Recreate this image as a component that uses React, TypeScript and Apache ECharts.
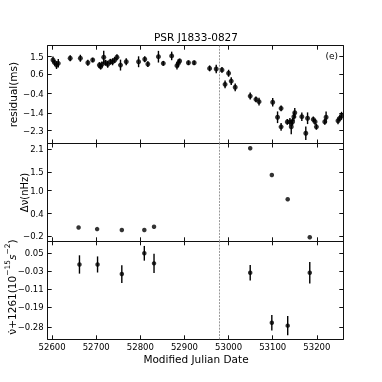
import React, { useEffect, useRef } from "react";
import * as echarts from "echarts";

// ---- data ----
const xTicks = [52600, 52700, 52800, 52900, 53000, 53100, 53200];
const topYTicks = [1.5, 0.6, -0.4, -1.4, -2.3];
const midYTicks = [2.1, 1.5, 1.0, 0.4, -0.2];
const botYTicks = [0.05, -0.03, -0.11, -0.19, -0.28];
const glitchMJD = 52978;

// [MJD, residual (ms), error (ms)]
const residuals: number[][] = [
  [52602, 1.33, 0.18], [52606, 1.19, 0.15], [52610, 1.07, 0.2], [52614, 1.16, 0.22],
  [52641, 1.42, 0.15], [52664, 1.42, 0.18], [52681, 1.19, 0.15], [52692, 1.33, 0.12],
  [52707, 1.07, 0.15], [52710, 0.99, 0.15], [52713, 1.11, 0.15], [52717, 1.47, 0.33],
  [52721, 1.19, 0.15], [52726, 1.11, 0.18], [52732, 1.24, 0.15], [52737, 1.24, 0.18],
  [52742, 1.33, 0.15], [52747, 1.47, 0.15], [52755, 1.07, 0.28], [52768, 1.24, 0.18],
  [52796, 1.24, 0.28], [52810, 1.37, 0.15], [52817, 1.12, 0.15], [52841, 1.5, 0.3],
  [52852, 1.16, 0.12], [52871, 1.54, 0.22], [52883, 1.04, 0.2], [52886, 1.16, 0.2],
  [52889, 1.28, 0.12], [52909, 1.19, 0.12], [52922, 1.19, 0.12], [52957, 0.9, 0.15],
  [52972, 0.87, 0.22], [52985, 0.82, 0.15], [52992, 0.08, 0.2], [53000, 0.65, 0.18],
  [53006, 0.25, 0.2], [53015, -0.07, 0.2], [53049, -0.52, 0.18], [53062, -0.69, 0.15],
  [53069, -0.81, 0.2], [53100, -0.84, 0.22], [53111, -1.61, 0.3], [53119, -1.15, 0.15],
  [53119, -2.1, 0.2], [53133, -1.85, 0.15], [53139, -1.85, 0.2], [53142, -2.1, 0.38],
  [53145, -1.84, 0.2], [53148, -1.58, 0.22], [53150, -1.38, 0.25], [53166, -1.58, 0.22],
  [53175, -2.43, 0.35], [53179, -1.66, 0.3], [53192, -1.72, 0.15], [53196, -1.84, 0.15],
  [53199, -2.1, 0.15], [53218, -1.84, 0.15], [53221, -1.61, 0.3], [53248, -1.79, 0.18],
  [53252, -1.66, 0.15], [53256, -1.53, 0.2],
];

// [MJD, delta nu (nHz)]
const deltaNu: number[][] = [
  [52660, 0.03], [52702, -0.01], [52758, -0.034], [52809, -0.034], [52831, 0.053],
  [53049, 2.12], [53098, 1.415], [53134, 0.775], [53184, -0.226],
];

// [MJD, nudot + 1261 (1e-15 s^-2), error]
const nuDot: number[][] = [
  [52662, 0.0, 0.041], [52703, 0.0, 0.036], [52758, -0.043, 0.04], [52809, 0.05, 0.033],
  [52831, 0.005, 0.043], [53049, -0.037, 0.035], [53098, -0.261, 0.035],
  [53134, -0.274, 0.043], [53184, -0.037, 0.048],
];

const FONT = "DejaVu Sans";

export default function App() {
  const ref = useRef<HTMLDivElement>(null);

  useEffect(() => {
    if (!ref.current) return;
    const chart = echarts.init(ref.current, undefined, { renderer: "svg" });

    const L = 47.7;
    const W = 295.6;
    const grids = [
      { top: 45.7, height: 97.8, min: -2.957, max: 2.065, ticks: topYTicks, dec: 1 },
      { top: 143.5, height: 97.8, min: -0.332, max: 2.245, ticks: midYTicks, dec: 1 },
      { top: 241.3, height: 98.0, min: -0.335, max: 0.1037, ticks: botYTicks, dec: 2 },
    ];
    const lineC = "#111";
    const minus = (s: string) => s.replace("-", "\u2212");

    const xAxes: any[] = [];
    const yAxes: any[] = [];
    grids.forEach((g, i) => {
      ["bottom", "top"].forEach((pos) => {
        xAxes.push({
          type: "value",
          gridIndex: i,
          position: pos,
          min: 52590,
          max: 53260,
          axisLine: { show: true, onZero: false, lineStyle: { color: lineC, width: 1 } },
          axisTick: { show: true, inside: true, length: 4, customValues: xTicks, lineStyle: { color: lineC, width: 1 } },
          axisLabel: {
            show: pos === "bottom" && i === 2,
            customValues: xTicks,
            formatter: (v: number) => String(v),
            fontSize: 8.5,
            fontFamily: FONT,
            color: "#000",
            margin: 3.5,
          },
          splitLine: { show: false },
        });
      });
      ["left", "right"].forEach((pos) => {
        yAxes.push({
          type: "value",
          gridIndex: i,
          position: pos,
          min: g.min,
          max: g.max,
          axisLine: { show: true, onZero: false, lineStyle: { color: lineC, width: 1 } },
          axisTick: { show: true, inside: true, length: 4, customValues: g.ticks, lineStyle: { color: lineC, width: 1 } },
          axisLabel: {
            show: pos === "left",
            customValues: g.ticks,
            formatter: (v: number) => minus(v.toFixed(g.dec)),
            fontSize: 8.5,
            fontFamily: FONT,
            color: "#000",
            margin: 4,
          },
          splitLine: { show: false },
        });
      });
    });

    const markLine = {
      silent: true,
      symbol: "none",
      label: { show: false },
      lineStyle: { type: [2, 1.2], color: "#999", width: 1 },
      data: [{ xAxis: glitchMJD }],
    };

    const errRender = (params: any, api: any) => {
      const x = api.value(0);
      const y = api.value(1);
      const e = api.value(2);
      const p1 = api.coord([x, y - e]);
      const p2 = api.coord([x, y + e]);
      return {
        type: "line",
        shape: { x1: p1[0], y1: p1[1], x2: p2[0], y2: p2[1] },
        style: { stroke: "#000", lineWidth: 1.4 },
      };
    };

    const option: any = {
      animation: false,
      grid: grids.map((g) => ({ left: L, width: W, top: g.top, height: g.height, containLabel: false, outerBoundsMode: "none" })),
      xAxis: xAxes,
      yAxis: yAxes,
      series: [
        { type: "custom", xAxisIndex: 0, yAxisIndex: 0, data: residuals, renderItem: errRender, encode: { x: 0, y: 1 }, silent: true },
        {
          type: "scatter", xAxisIndex: 0, yAxisIndex: 0, data: residuals.map((d) => [d[0], d[1]]),
          symbol: "circle", symbolSize: 5, itemStyle: { color: "#000" }, markLine,
        },
        {
          type: "scatter", xAxisIndex: 2, yAxisIndex: 2, data: deltaNu,
          symbol: "circle", symbolSize: 4.5, itemStyle: { color: "#000" }, markLine,
        },
        { type: "custom", xAxisIndex: 4, yAxisIndex: 4, data: nuDot, renderItem: errRender, encode: { x: 0, y: 1 }, silent: true },
        {
          type: "scatter", xAxisIndex: 4, yAxisIndex: 4, data: nuDot.map((d) => [d[0], d[1]]),
          symbol: "circle", symbolSize: 4.5, itemStyle: { color: "#000" }, markLine,
        },
      ],
      graphic: [
        { type: "text", x: 196, y: 36.7, style: { text: "PSR J1833-0827", font: `10.5px "${FONT}"`, fill: "#000", align: "center", verticalAlign: "middle" } },
        { type: "text", x: 331.7, y: 56, style: { text: "(e)", font: `9px "${FONT}"`, fill: "#000", align: "center", verticalAlign: "middle" } },
        { type: "text", x: 196, y: 359, style: { text: "Modified Julian Date", font: `10.5px "${FONT}"`, fill: "#000", align: "center", verticalAlign: "middle" } },
        { type: "text", x: 12.7, y: 94.6, rotation: Math.PI / 2, style: { text: "residual(ms)", font: `10.5px "${FONT}"`, fill: "#000", align: "center", verticalAlign: "middle" } },
        { type: "text", x: 24.5, y: 192.5, rotation: Math.PI / 2, style: { text: "\u0394\u03bd(nHz)", font: `10px "${FONT}"`, fill: "#000", align: "center", verticalAlign: "middle" } },
        {
          type: "text", x: 10, y: 287, rotation: Math.PI / 2,
          style: {
            text: "{a|\u03bd\u0307+1261(10}{p|\u221215}{s|s}{p|\u22122}{a|)}",
            align: "center", verticalAlign: "middle", fill: "#000",
            rich: {
              a: { fontFamily: FONT, fontSize: 10.5, lineHeight: 14, verticalAlign: "bottom", fill: "#000" },
              s: { fontFamily: FONT, fontSize: 10.5, lineHeight: 14, verticalAlign: "bottom", fontStyle: "italic", fill: "#000" },
              p: { fontFamily: FONT, fontSize: 7.5, lineHeight: 9, verticalAlign: "top", fill: "#000" },
            },
          },
        },
      ],
    };

    chart.setOption(option);
    return () => chart.dispose();
  }, []);

  return <div ref={ref} style={{ position: "fixed", left: 0, top: 0, width: 382, height: 382 }} />;
}
